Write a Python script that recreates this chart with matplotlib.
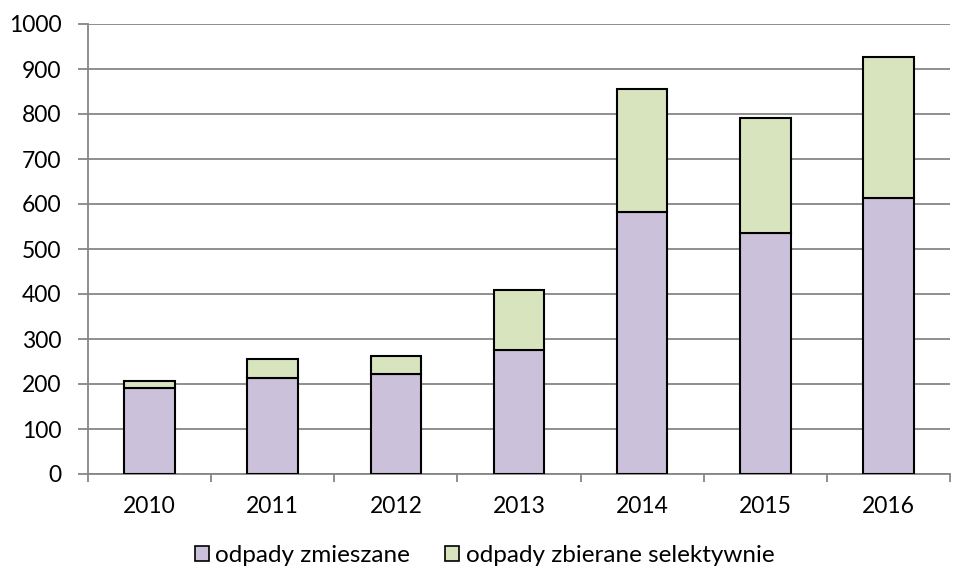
import matplotlib
matplotlib.use("Agg")
import matplotlib.pyplot as plt
from matplotlib.patches import Patch
import numpy as np

years = ["2010", "2011", "2012", "2013", "2014", "2015", "2016"]
mixed = [191, 213, 222, 275, 582, 536, 614]
selective = [16, 43, 40, 135, 273, 256, 313]
labels = ["odpady zmieszane", "odpady zbierane selektywnie"]
colors = ["#CCC1DA", "#D7E4BD"]

plt.rcParams['font.family'] = ['Lato', 'DejaVu Sans']

fig = plt.figure(figsize=(9.54, 5.76), dpi=100)
ax = fig.add_axes([88/954, 1-474/576, (950-88)/954, (474-24)/576])

x = np.arange(len(years))
w = 0.41
ax.bar(x, mixed, w, color=colors[0], edgecolor="black", linewidth=1.5, zorder=3)
ax.bar(x, selective, w, bottom=mixed, color=colors[1], edgecolor="black", linewidth=1.5, zorder=3)

ax.set_xlim(-0.5, len(years) - 0.5)
ax.set_ylim(0, 1000)
ax.set_yticks(np.arange(0, 1001, 100))
ax.yaxis.grid(True, color="#868686", linewidth=1.3, zorder=0)
ax.set_axisbelow(True)

ax.set_xticks(x)
ax.set_xticklabels(years)
ax.set_xticks(np.arange(-0.5, len(years), 1), minor=True)
ax.tick_params(axis="x", which="major", length=0, pad=16, labelsize=16.5)
ax.tick_params(axis="x", which="minor", length=6, color="#868686", width=1.3)
ax.tick_params(axis="y", length=7, color="#868686", width=1.3, labelsize=16.5, pad=12)

for s in ["top", "right"]:
    ax.spines[s].set_visible(False)
for s in ["left", "bottom"]:
    ax.spines[s].set_color("#868686")
    ax.spines[s].set_linewidth(1.3)

handles = [Patch(facecolor=colors[i], edgecolor="black", linewidth=1.2) for i in range(2)]
fig.legend(handles, labels, loc="center", bbox_to_anchor=(0.508, 1-556/576), ncol=2,
           frameon=False, fontsize=17.5, handlelength=0.58, handleheight=0.58,
           handletextpad=0.25, columnspacing=1.45)

fig.savefig("out.png", dpi=100)
